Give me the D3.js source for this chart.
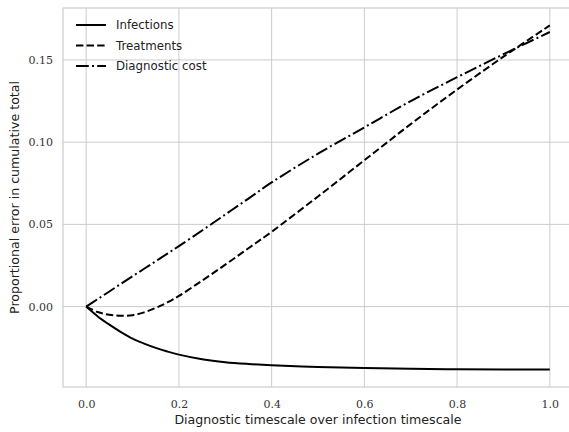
<!DOCTYPE html>
<html>
<head>
<meta charset="utf-8">
<script src="https://cdn.jsdelivr.net/npm/d3@7"></script>
<style>
  body { margin: 0; background: #fff; }
  .tick text { font-family: "DejaVu Serif", serif; font-size: 11px; fill: #333; }
  .label { font-family: "DejaVu Sans", sans-serif; font-size: 12.6px; fill: #222; }
  .legend-text { font-family: "DejaVu Sans", sans-serif; font-size: 11.8px; fill: #222; }
</style>
</head>
<body>
<svg id="chart"></svg>
<script>
const size = { w: 569, h: 432 };
const margin = { t: 8, r: 2, b: 45, l: 63 };

// values
const xs = [0, 0.025, 0.05, 0.075, 0.1, 0.125, 0.15, 0.175, 0.2, 0.25, 0.3, 0.35, 0.4, 0.5, 0.6, 0.7, 0.8, 0.9, 1.0];
const infections = [0, -0.0060, -0.0110, -0.0155, -0.0195, -0.0225, -0.0251, -0.0273, -0.0292, -0.0320, -0.0338, -0.0349, -0.0357, -0.0368, -0.0374, -0.0378, -0.0381, -0.0382, -0.0383];
const treatments = [0, -0.0033, -0.0050, -0.0056, -0.0052, -0.0035, -0.0008, 0.0025, 0.0065, 0.0158, 0.0255, 0.0355, 0.0455, 0.067, 0.089, 0.111, 0.132, 0.152, 0.171];
const diagnostic = [0, 0.0046, 0.0092, 0.0139, 0.0185, 0.0230, 0.0276, 0.0322, 0.0368, 0.0463, 0.0560, 0.0657, 0.0755, 0.093, 0.109, 0.125, 0.1395, 0.1535, 0.167];

const seriesNames = ["Infections", "Treatments", "Diagnostic cost"];
const seriesValues = [infections, treatments, diagnostic];
const dashes = ["none", "7.4,3.2", "12.8,3.2,2,3.2"];

const xTicks = [0, 0.2, 0.4, 0.6, 0.8, 1.0];
const yTicks = [0, 0.05, 0.1, 0.15];

const svg = d3.select("svg#chart").attr("width", size.w).attr("height", size.h);

const x = d3.scaleLinear().domain([-0.05, 1.05]).range([margin.l, margin.l + 510]);
const y = d3.scaleLinear().domain([-0.0489, 0.1816]).range([size.h - margin.b, margin.t]);

// grid
svg.append("g")
  .selectAll("line")
  .data(xTicks)
  .join("line")
  .attr("x1", (d) => x(d)).attr("x2", (d) => x(d))
  .attr("y1", y.range()[0]).attr("y2", y.range()[1])
  .attr("stroke", "#cccccc").attr("stroke-width", 1);
svg.append("g")
  .selectAll("line")
  .data(yTicks)
  .join("line")
  .attr("x1", x.range()[0]).attr("x2", x.range()[1])
  .attr("y1", (d) => y(d)).attr("y2", (d) => y(d))
  .attr("stroke", "#cccccc").attr("stroke-width", 1);

// frame
svg.append("rect")
  .attr("x", x.range()[0]).attr("y", y.range()[1])
  .attr("width", x.range()[1] - x.range()[0])
  .attr("height", y.range()[0] - y.range()[1])
  .attr("fill", "none").attr("stroke", "#cccccc").attr("stroke-width", 1.2);

// axes (labels only)
const xAxis = svg.append("g")
  .attr("transform", `translate(0, ${y.range()[0]})`)
  .call(d3.axisBottom(x).tickValues(xTicks).tickFormat(d3.format(".1f")).tickSize(0).tickPadding(13));
const yAxis = svg.append("g")
  .attr("transform", `translate(${x.range()[0]}, 0)`)
  .call(d3.axisLeft(y).tickValues(yTicks).tickFormat(d3.format(".2f")).tickSize(0).tickPadding(10));
[xAxis, yAxis].forEach((g) => g.select(".domain").remove());

// lines
const line = d3.line()
  .x((d) => x(d[0]))
  .y((d) => y(d[1]))
  .curve(d3.curveCatmullRom.alpha(0.5));

svg.append("g")
  .selectAll("path")
  .data(seriesValues)
  .join("path")
  .attr("d", (vals) => line(xs.map((v, i) => [v, vals[i]])))
  .attr("fill", "none")
  .attr("stroke", "#000")
  .attr("stroke-width", 2)
  .attr("stroke-dasharray", (d, i) => dashes[i]);

// legend
const legend = svg.append("g").attr("transform", "translate(76, 25)");
const rows = legend.selectAll("g")
  .data(seriesNames)
  .join("g")
  .attr("transform", (d, i) => `translate(0, ${i * 20.5})`);
rows.append("line")
  .attr("x1", 0).attr("x2", 30)
  .attr("stroke", "#000").attr("stroke-width", 2)
  .attr("stroke-dasharray", (d, i) => dashes[i]);
rows.append("text")
  .classed("legend-text", true)
  .attr("x", 40).attr("dy", "0.35em")
  .text((d) => d);

// axis titles
svg.append("text")
  .classed("label", true)
  .attr("text-anchor", "middle")
  .attr("x", x(0.5)).attr("y", 424)
  .text("Diagnostic timescale over infection timescale");
svg.append("text")
  .classed("label", true)
  .attr("text-anchor", "middle")
  .attr("transform", `translate(19, ${(y.range()[0] + y.range()[1]) / 2}) rotate(-90)`)
  .text("Proportional error in cumulative total");
</script>
</body>
</html>
